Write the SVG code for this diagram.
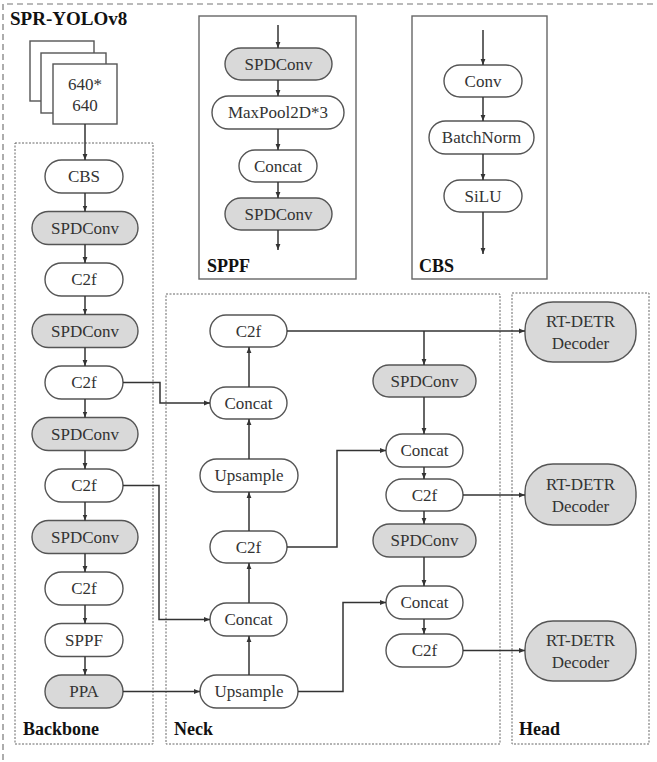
<svg xmlns="http://www.w3.org/2000/svg" width="657" height="762" viewBox="0 0 657 762">
<defs>
<marker id="ah" viewBox="0 0 10 10" refX="10" refY="5" markerWidth="6" markerHeight="6" markerUnits="userSpaceOnUse" orient="auto">
<path d="M0,1 L10,5 L0,9 z" fill="#333"/>
</marker>
<style>
.n{fill:#fff;stroke:#555;stroke-width:1.4}
.g{fill:#d9d9d9;stroke:#555;stroke-width:1.4}
.t{font-family:"Liberation Serif","Times New Roman",serif;font-size:17px;fill:#333;text-anchor:middle;dominant-baseline:central}
.b{font-family:"Liberation Serif","Times New Roman",serif;font-size:18px;font-weight:bold;fill:#111}
.grp{fill:none;stroke:#666;stroke-width:1;stroke-dasharray:2 1.5}
.box{fill:none;stroke:#666;stroke-width:1.4}
.c{fill:none;stroke:#333;stroke-width:1.5;marker-end:url(#ah)}
.l{fill:none;stroke:#333;stroke-width:1.5}
</style>
</defs>
<rect width="657" height="762" fill="#fff"/>
<path d="M3,760 L3,4 L657,4" fill="none" stroke="#777" stroke-width="1.2" stroke-dasharray="6 4"/>
<text class="b" x="10" y="25" style="font-size:19px">SPR-YOLOv8</text>

<g id="input">
<rect x="30" y="41" width="64" height="60" fill="#fff" stroke="#555" stroke-width="1.4"/>
<rect x="41" y="53" width="65" height="60" fill="#fff" stroke="#555" stroke-width="1.4"/>
<rect x="53" y="64" width="64" height="60" fill="#fff" stroke="#555" stroke-width="1.4"/>
<text class="t" x="85" y="84">640*</text>
<text class="t" x="85" y="105">640</text>
</g>

<g id="sppf-box">
<rect class="box" x="199" y="16" width="157" height="263"/>
<text class="b" x="207" y="272">SPPF</text>
<rect class="g" x="225" y="48" width="107" height="32" rx="16"/><text class="t" x="278.5" y="64">SPDConv</text>
<rect class="n" x="212" y="96" width="132" height="33" rx="16.5"/><text class="t" x="278" y="112.5">MaxPool2D*3</text>
<rect class="n" x="239" y="150" width="78" height="32" rx="16"/><text class="t" x="278" y="166">Concat</text>
<rect class="g" x="225" y="198" width="107" height="32" rx="16"/><text class="t" x="278.5" y="214">SPDConv</text>
<path class="c" d="M278,25 L278,48"/>
<path class="c" d="M278,80 L278,96"/>
<path class="c" d="M278,129 L278,150"/>
<path class="c" d="M278,182 L278,198"/>
<path class="c" d="M278,230 L278,250"/>
</g>

<g id="cbs-box">
<rect class="box" x="412" y="16" width="135" height="263"/>
<text class="b" x="419" y="272">CBS</text>
<rect class="n" x="444" y="65" width="78" height="32" rx="16"/><text class="t" x="483" y="81">Conv</text>
<rect class="n" x="429" y="121" width="105" height="33" rx="16.5"/><text class="t" x="481.5" y="137.5">BatchNorm</text>
<rect class="n" x="444" y="180" width="78" height="32" rx="16"/><text class="t" x="483" y="196">SiLU</text>
<path class="c" d="M483,30 L483,65"/>
<path class="c" d="M483,97 L483,121"/>
<path class="c" d="M483,154 L483,180"/>
<path class="c" d="M483,212 L483,254"/>
</g>

<g id="groups">
<rect class="grp" x="15" y="143" width="138" height="601"/>
<text class="b" x="23" y="735">Backbone</text>
<rect class="grp" x="166" y="294" width="334" height="450"/>
<text class="b" x="174" y="735">Neck</text>
<rect class="grp" x="512" y="293" width="137" height="451"/>
<text class="b" x="519" y="735">Head</text>
</g>

<g id="backbone">
<g id="b-cbs"><rect class="n" x="45" y="160" width="78" height="33" rx="16.5"/><text class="t" x="84" y="176.5">CBS</text></g>
<g id="b-spd1"><rect class="g" x="32" y="211.5" width="106" height="33" rx="16.5"/><text class="t" x="85" y="228">SPDConv</text></g>
<g id="b-c2f1"><rect class="n" x="45" y="263" width="78" height="33" rx="16.5"/><text class="t" x="84" y="279.5">C2f</text></g>
<g id="b-spd2"><rect class="g" x="32" y="314.5" width="106" height="33" rx="16.5"/><text class="t" x="85" y="331">SPDConv</text></g>
<g id="b-c2f2"><rect class="n" x="45" y="366" width="78" height="33" rx="16.5"/><text class="t" x="84" y="382.5">C2f</text></g>
<g id="b-spd3"><rect class="g" x="32" y="417.5" width="106" height="33" rx="16.5"/><text class="t" x="85" y="434">SPDConv</text></g>
<g id="b-c2f3"><rect class="n" x="45" y="469" width="78" height="33" rx="16.5"/><text class="t" x="84" y="485.5">C2f</text></g>
<g id="b-spd4"><rect class="g" x="32" y="520.5" width="106" height="33" rx="16.5"/><text class="t" x="85" y="537">SPDConv</text></g>
<g id="b-c2f4"><rect class="n" x="45" y="572" width="78" height="33" rx="16.5"/><text class="t" x="84" y="588.5">C2f</text></g>
<g id="b-sppf"><rect class="n" x="45" y="623.5" width="78" height="33" rx="16.5"/><text class="t" x="84" y="640">SPPF</text></g>
<g id="b-ppa"><rect class="g" x="45" y="675" width="78" height="33" rx="16.5"/><text class="t" x="84" y="691.5">PPA</text></g>
</g>

<g id="neck">
<g id="n-c2f-top"><rect class="n" x="210" y="315" width="77" height="32" rx="16"/><text class="t" x="248.5" y="331">C2f</text></g>
<g id="n-concat1"><rect class="n" x="210" y="387" width="77" height="32" rx="16"/><text class="t" x="248.5" y="403">Concat</text></g>
<g id="n-up1"><rect class="n" x="200" y="459" width="98" height="33" rx="16.5"/><text class="t" x="249" y="475.5">Upsample</text></g>
<g id="n-c2f-mid"><rect class="n" x="210" y="531" width="77" height="32" rx="16"/><text class="t" x="248.5" y="547">C2f</text></g>
<g id="n-concat2"><rect class="n" x="210" y="603" width="77" height="33" rx="16.5"/><text class="t" x="248.5" y="619.5">Concat</text></g>
<g id="n-up2"><rect class="n" x="200" y="675" width="98" height="33" rx="16.5"/><text class="t" x="249" y="691.5">Upsample</text></g>
<g id="n-spd1"><rect class="g" x="373" y="365" width="103" height="32" rx="16"/><text class="t" x="424.5" y="381">SPDConv</text></g>
<g id="n-concat3"><rect class="n" x="386" y="434" width="77" height="33" rx="16.5"/><text class="t" x="424.5" y="450.5">Concat</text></g>
<g id="n-c2f3"><rect class="n" x="386" y="479" width="77" height="32" rx="16"/><text class="t" x="424.5" y="495">C2f</text></g>
<g id="n-spd2"><rect class="g" x="373" y="524" width="103" height="33" rx="16.5"/><text class="t" x="424.5" y="540.5">SPDConv</text></g>
<g id="n-concat4"><rect class="n" x="386" y="586" width="77" height="33" rx="16.5"/><text class="t" x="424.5" y="602.5">Concat</text></g>
<g id="n-c2f4"><rect class="n" x="386" y="634" width="77" height="33" rx="16.5"/><text class="t" x="424.5" y="650.5">C2f</text></g>
</g>

<g id="head">
<g id="h-dec1"><rect class="g" x="525" y="302" width="111" height="60" rx="28"/><text class="t" x="580.5" y="321">RT-DETR</text><text class="t" x="580.5" y="343">Decoder</text></g>
<g id="h-dec2"><rect class="g" x="525" y="464" width="111" height="61" rx="28"/><text class="t" x="580.5" y="484">RT-DETR</text><text class="t" x="580.5" y="506">Decoder</text></g>
<g id="h-dec3"><rect class="g" x="525" y="621" width="111" height="60" rx="28"/><text class="t" x="580.5" y="640">RT-DETR</text><text class="t" x="580.5" y="662">Decoder</text></g>
</g>

<g id="connectors">
<path class="c" d="M85,124 L85,160"/>
<path class="c" d="M85,193 L85,211.5"/>
<path class="c" d="M85,244.5 L85,263"/>
<path class="c" d="M85,296 L85,314.5"/>
<path class="c" d="M85,347.5 L85,366"/>
<path class="c" d="M85,399 L85,417.5"/>
<path class="c" d="M85,450.5 L85,469"/>
<path class="c" d="M85,502 L85,520.5"/>
<path class="c" d="M85,553.5 L85,572"/>
<path class="c" d="M85,605 L85,623.5"/>
<path class="c" d="M85,656.5 L85,675"/>
<path class="c" d="M123,382.5 L160,382.5 L160,403 L210,403"/>
<path class="c" d="M123,485.5 L159,485.5 L159,619.5 L210,619.5"/>
<path class="c" d="M123,691.5 L200,691.5"/>
<path class="c" d="M249,675 L249,636"/>
<path class="c" d="M249,603 L249,563"/>
<path class="c" d="M249,531 L249,492"/>
<path class="c" d="M249,459 L249,419"/>
<path class="c" d="M249,387 L249,347"/>
<path class="c" d="M287,331 L525,331"/>
<path class="c" d="M424,331 L424,365"/>
<path class="c" d="M424,397 L424,434"/>
<path class="c" d="M287,547 L337,547 L337,450.5 L386,450.5"/>
<path class="c" d="M424,467 L424,479"/>
<path class="c" d="M463,495 L525,495"/>
<path class="c" d="M424,511 L424,524"/>
<path class="c" d="M424,557 L424,586"/>
<path class="c" d="M298,691.5 L343,691.5 L343,602.5 L386,602.5"/>
<path class="c" d="M424,619 L424,634"/>
<path class="c" d="M463,650.5 L525,650.5"/>
</g>
</svg>
